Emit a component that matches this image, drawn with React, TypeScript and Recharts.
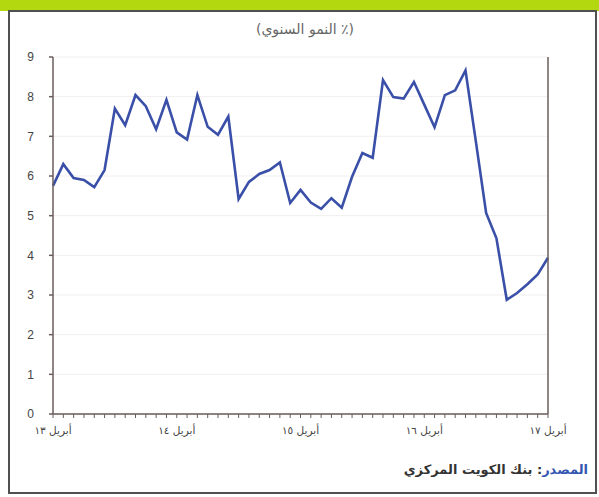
import {CartesianGrid, Line, LineChart, XAxis, YAxis} from "recharts";

// Monthly observations, April 2013 through April 2017
const months = [
    "2013-04", "2013-05", "2013-06", "2013-07", "2013-08", "2013-09", "2013-10", "2013-11", "2013-12",
    "2014-01", "2014-02", "2014-03", "2014-04", "2014-05", "2014-06", "2014-07", "2014-08", "2014-09",
    "2014-10", "2014-11", "2014-12", "2015-01", "2015-02", "2015-03", "2015-04", "2015-05", "2015-06",
    "2015-07", "2015-08", "2015-09", "2015-10", "2015-11", "2015-12", "2016-01", "2016-02", "2016-03",
    "2016-04", "2016-05", "2016-06", "2016-07", "2016-08", "2016-09", "2016-10", "2016-11", "2016-12",
    "2017-01", "2017-02", "2017-03", "2017-04",
];

// Year-on-year growth, %
const growth = [
    5.75, 6.3, 5.95, 5.9, 5.72, 6.15, 7.7, 7.28, 8.04, 7.76, 7.18, 7.92, 7.1,
    6.92, 8.04, 7.24, 7.04, 7.5, 5.42, 5.85, 6.05, 6.15, 6.34, 5.32, 5.65,
    5.33, 5.17, 5.44, 5.2, 5.98, 6.58, 6.46, 8.42, 7.99, 7.95, 8.37, 7.8,
    7.23, 8.04, 8.16, 8.66, 6.88, 5.07, 4.43, 2.88, 3.05, 3.27, 3.52, 3.94,
];

const yTicks = [0, 1, 2, 3, 4, 5, 6, 7, 8, 9];

const labelMonths = ["2013-04", "2014-04", "2015-04", "2016-04", "2017-04"];
const labelTexts = ["أبريل ١٣", "أبريل ١٤", "أبريل ١٥", "أبريل ١٦", "أبريل ١٧"];

const chartData = months.map((month, i) => ({month, growth: growth[i]}));

const AXIS = "#6b5c5c";
const ARABIC_FONT = "'DejaVu Sans', 'Liberation Sans', sans-serif";

function MonthTick(props: any) {
    const {x, y, payload} = props;
    const idx = labelMonths.indexOf(payload.value);
    if (idx < 0) return <g />;
    return (
        <text x={x} y={y + 14} textAnchor="middle" fontSize={10.5} fill="#444"
              fontFamily={ARABIC_FONT} direction="rtl">
            {labelTexts[idx]}
        </text>
    );
}

function App() {
    return (
        <div style={{position: "fixed", left: 0, top: 0, width: 599, height: 497, background: "#fff", overflow: "hidden"}}>
            <div style={{position: "absolute", left: 0, top: 0, width: 599, height: 11, background: "#b4d80f"}} />
            <div style={{
                position: "absolute", left: 8, top: 10, width: 585, height: 480,
                border: "2px solid #505050", background: "#fff",
            }} />
            <div style={{
                position: "absolute", left: 195, top: 21, width: 220, textAlign: "center",
                fontFamily: ARABIC_FONT, fontSize: 14, color: "#666", direction: "rtl",
            }}>
                (٪ النمو السنوي)
            </div>
            <div style={{position: "absolute", left: 0, top: 0}}>
                <LineChart width={599} height={497} data={chartData}
                           margin={{top: 57, right: 11, bottom: 53, left: 13}}>
                    <CartesianGrid vertical={false} stroke="#f1eeee" yAxisId="left" />
                    <XAxis dataKey="month" interval={0} tickSize={4} height={30}
                           axisLine={{stroke: AXIS, strokeWidth: 1.5}} tickLine={{stroke: AXIS}}
                           tick={<MonthTick />} />
                    <YAxis yAxisId="left" domain={[0, 9]} ticks={yTicks} width={40}
                           tickSize={4} tickMargin={15}
                           axisLine={{stroke: AXIS, strokeWidth: 1.5}} tickLine={{stroke: AXIS, strokeWidth: 1.5}}
                           tick={{fontSize: 12, fill: "#444", fontFamily: "'Liberation Sans', Arial, sans-serif"}} />
                    <YAxis yAxisId="right" orientation="right" domain={[0, 9]} ticks={yTicks} width={40}
                           tickSize={4} tickMargin={13}
                           axisLine={{stroke: AXIS, strokeWidth: 1.5}} tickLine={{stroke: AXIS, strokeWidth: 1.5}}
                           tick={{fontSize: 12, fill: "#444", fontFamily: "'Liberation Sans', Arial, sans-serif"}} />
                    <Line yAxisId="left" type="linear" dataKey="growth" stroke="#3a4fa8" strokeWidth={2.6}
                          dot={false} isAnimationActive={false} />
                </LineChart>
            </div>
            <div style={{
                position: "absolute", right: 11, top: 462, direction: "rtl",
                fontFamily: ARABIC_FONT, fontSize: 13, fontWeight: "bold", color: "#333",
            }}>
                <span style={{color: "#3456b0"}}>المصدر</span>: بنك الكويت المركزي
            </div>
        </div>
    );
}

export default App;
